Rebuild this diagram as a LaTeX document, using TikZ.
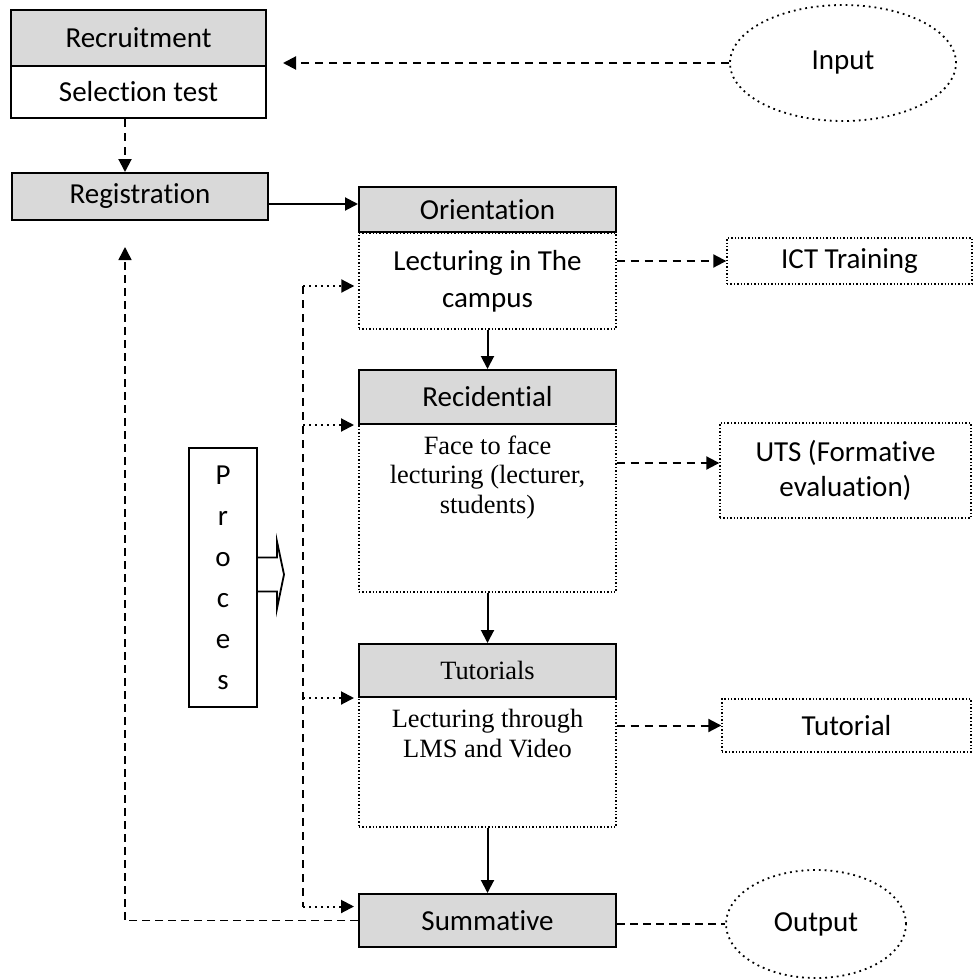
\documentclass[tikz,border=0pt]{standalone}
\usepackage{fontspec}
\setmainfont{Carlito}[Ligatures=NoCommon]
\newfontfamily\timesfont{Liberation Serif}
\usetikzlibrary{arrows.meta,shapes.geometric}
\definecolor{boxgray}{HTML}{D9D9D9}

\begin{document}
\begin{tikzpicture}[x=0.5pt,y=-0.5pt,
  every node/.style={font=\fontsize{14.5}{18}\selectfont,inner sep=0pt,align=center},
  graybox/.style={draw,line width=1pt,fill=boxgray},
  whitebox/.style={draw,line width=1pt},
  dotbox/.style={draw,densely dotted,line width=0.7pt},
  oval/.style={ellipse,draw,dotted,line width=0.9pt},
  serif/.style={font=\timesfont\fontsize{13.2}{14.8}\selectfont},
  tip/.style={-{Triangle[length=6.5pt,width=6.5pt]}},
  solidarr/.style={tip,line width=1pt},
  dasharr/.style={tip,line width=1pt,dash pattern=on 4pt off 3pt},
  dotarr/.style={tip,line width=1pt,dash pattern=on 1pt off 2pt},
  thindash/.style={line width=0.75pt,dash pattern=on 4pt off 2.5pt}]
\useasboundingbox (0,0) rectangle (973,979);

\node[graybox,minimum width=127.5pt,minimum height=28pt] (recruit) at (138.5,38) {Recruitment};
\node[whitebox,minimum width=127.5pt,minimum height=26pt] (select) at (138.5,92) {Selection test};
\node[graybox,minimum width=128pt,minimum height=23.5pt] (reg) at (140,196.5) {Registration};

\node[graybox,minimum width=128.5pt,minimum height=22.5pt] (orient) at (487.5,209.5) {Orientation};
\node[dotbox,minimum width=128.5pt,minimum height=48pt,font=\fontsize{14.5}{18.5}\selectfont] (campus) at (487.5,281) {Lecturing in The\\campus};
\node[graybox,minimum width=128.5pt,minimum height=27pt] (resid) at (487.5,397) {Recidential};
\node[dotbox,minimum width=128.5pt,minimum height=84pt] (face) at (487.5,508) {};
\node[serif,anchor=north] (facetxt) at ([yshift=-6pt]face.north) {Face to face\\lecturing (lecturer,\\students)};
\node[graybox,minimum width=128.5pt,minimum height=26.5pt,serif] (tut) at (487.5,670.5) {Tutorials};
\node[dotbox,minimum width=128.5pt,minimum height=65pt] (lms) at (487.5,762) {};
\node[serif,anchor=north,font=\timesfont\fontsize{13.2}{15}\selectfont] (lmstxt) at ([yshift=-6pt]lms.north) {Lecturing through\\LMS and Video};
\node[graybox,minimum width=128.5pt,minimum height=26.5pt] (summ) at (487.5,920.5) {Summative};

\node[dotbox,minimum width=122.5pt,minimum height=23pt] (ict) at (849.5,261) {ICT Training};
\node[dotbox,minimum width=125.5pt,minimum height=47.5pt,font=\fontsize{14.5}{17.5}\selectfont] (uts) at (845.5,470.5) {UTS (Formative\\evaluation)};
\node[dotbox,minimum width=124.5pt,minimum height=26.5pt] (tutor) at (846.5,725.5) {Tutorial};

\node[oval,minimum width=113pt,minimum height=58pt] (input) at (843,63) {Input};
\node[oval,minimum width=90pt,minimum height=54pt] (output) at (816,924) {Output};

\node[whitebox,minimum width=34pt,minimum height=129.5pt,font=\fontsize{14.5}{20.5}\selectfont] (proc) at (223,577.5) {P\\r\\o\\c\\e\\s};
\draw[line width=0.9pt] (proc.east) ++(0,-20) -- ++(19,0) -- ++(0,-16) -- ++(7,33) -- ++(-7,34) -- ++(0,-17) -- ++(-19,0);

\coordinate (lx) at (125,0);
\coordinate (intip) at (283,63);
\coordinate (backtip) at (125,247);
\coordinate (busx) at (303,0);

\draw[dasharr] (input.west) -- (intip);
\draw[dasharr] (select.south -| lx) -- (reg.north -| lx);
\draw[solidarr] ([yshift=-3.75pt]reg.east) -- ([yshift=2.75pt]orient.west);
\draw[solidarr] (campus.south) -- (resid.north);
\draw[solidarr] (face.south) -- (tut.north);
\draw[solidarr] (lms.south) -- (summ.north);

\draw[dasharr] (campus.east |- ict.west) -- (ict.west);
\draw[dasharr] (face.east |- uts.west) ++(0,-7.5) -- ([yshift=3.75pt]uts.west);
\draw[dasharr] (lms.east |- tutor.west) -- (tutor.west);
\draw[thindash] (summ.east |- output.west) -- (output.west);
\draw[thindash,tip] (summ.west) -| (backtip);

\coordinate (in1) at ([yshift=-2.5pt]campus.west);
\coordinate (in2) at (resid.south west);
\coordinate (in3) at (tut.south west);
\coordinate (in4) at ([yshift=7pt]summ.west);
\draw[line width=1pt,dash pattern=on 4pt off 3pt] (in1 -| busx) -- (in4 -| busx);
\foreach \t in {in1,in2,in3,in4}
  \draw[dotarr,shorten >=2pt] (\t -| busx) -- (\t);
\end{tikzpicture}
\end{document}
